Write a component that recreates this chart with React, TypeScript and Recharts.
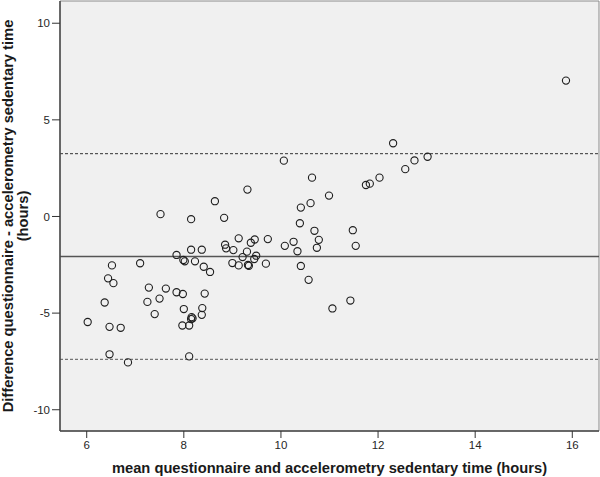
import React from 'react';
import {
  ScatterChart,
  Scatter,
  XAxis,
  YAxis,
  ReferenceLine,
  ReferenceArea,
} from 'recharts';

// ---------------------------------------------------------------------------
// Data
// ---------------------------------------------------------------------------

/** mean of questionnaire and accelerometry sedentary time (hours) */
const meanHours = [
  15.87, 12.31, 13.02, 12.75, 12.56, 10.06, 10.64, 12.03, 11.75, 11.83,
  10.99, 9.31, 8.64, 10.41, 10.61, 7.52, 8.15, 8.83, 10.39, 10.69,
  11.48, 10.78, 9.13, 9.38, 9.46, 9.73, 10.26, 10.08, 10.34, 10.74,
  11.54, 8.85, 8.87, 9.02, 9.3, 8.15, 8.37, 7.85, 7.99, 8.02,
  8.23, 9.21, 9.49, 9.45, 9.0, 9.13, 9.32, 9.34, 9.69, 10.41,
  8.41, 8.54, 6.52, 7.1, 6.44, 6.55, 7.28, 7.63, 7.85, 7.98,
  8.43, 7.5, 7.25, 6.37, 8.0, 8.38, 8.37, 7.4, 8.16, 8.15,
  8.18, 6.02, 6.47, 6.7, 7.97, 8.11, 6.47, 6.85, 8.11, 10.57,
  11.06, 11.43,
];

/** difference questionnaire - accelerometry sedentary time (hours) */
const diffHours = [
  7.03, 3.79, 3.09, 2.9, 2.45, 2.89, 2.01, 2.01, 1.63, 1.7,
  1.08, 1.39, 0.79, 0.46, 0.69, 0.12, -0.14, -0.07, -0.35, -0.74,
  -0.71, -1.21, -1.13, -1.36, -1.19, -1.17, -1.31, -1.52, -1.8, -1.62,
  -1.52, -1.46, -1.65, -1.74, -1.82, -1.72, -1.72, -1.99, -2.25, -2.32,
  -2.32, -2.1, -2.03, -2.2, -2.41, -2.53, -2.51, -2.55, -2.44, -2.56,
  -2.6, -2.87, -2.53, -2.42, -3.2, -3.45, -3.68, -3.73, -3.92, -4.01,
  -3.99, -4.25, -4.42, -4.45, -4.79, -4.74, -5.09, -5.05, -5.21, -5.31,
  -5.27, -5.46, -5.71, -5.76, -5.64, -5.64, -7.13, -7.55, -7.24, -3.28,
  -4.76, -4.35,
];

const xTicks = [6, 8, 10, 12, 14, 16];
const yTicks = [-10, -5, 0, 5, 10];
const xDomain = [5.45, 16.55];
const yDomain = [-11.1, 11.15];

// Bland-Altman lines
const meanDifference = -2.07;
const upperLimit = 3.25;
const lowerLimit = -7.39;

const FONT = '"Liberation Sans", Arial, sans-serif';

// ---------------------------------------------------------------------------
// Custom pieces
// ---------------------------------------------------------------------------

function OpenCircle(props: { cx?: number; cy?: number }) {
  const { cx = 0, cy = 0 } = props;
  return <circle cx={cx} cy={cy} r={3.6} fill="none" stroke="#1e1e1e" strokeWidth={1.1} />;
}

type VB = { x: number; y: number; width: number; height: number };

function YTitle(props: { viewBox?: VB }) {
  const vb = props.viewBox || { x: 0, y: 0, width: 0, height: 0 };
  const cy = vb.y + vb.height / 2;
  const style = { fontFamily: FONT, fontSize: 14.7, fontWeight: 'bold' as const, fill: '#1a1a1a' };
  return (
    <g transform={`translate(8, ${cy}) rotate(-90)`}>
      <text x={0} y={0} textAnchor="middle" dominantBaseline="central" {...style}>
        Difference questionnaire - accelerometry sedentary time
      </text>
      <text x={0} y={15} textAnchor="middle" dominantBaseline="central" {...style}>
        (hours)
      </text>
    </g>
  );
}

function XTitle(props: { viewBox?: VB }) {
  const vb = props.viewBox || { x: 0, y: 0, width: 0, height: 0 };
  return (
    <text
      x={vb.x + vb.width / 2}
      y={468}
      textAnchor="middle"
      dominantBaseline="central"
      fontFamily={FONT}
      fontSize={14.7}
      fontWeight="bold"
      fill="#1a1a1a"
    >
      mean questionnaire and accelerometry sedentary time (hours)
    </text>
  );
}

// ---------------------------------------------------------------------------
// Component
// ---------------------------------------------------------------------------

export default function App() {
  const points = meanHours.map((m, i) => ({ mean: m, diff: diffHours[i] }));
  const tick = { fill: '#262626', fontSize: 11.5, fontFamily: FONT };

  return (
    <div style={{ position: 'absolute', left: 0, top: 0, width: 600, height: 477, background: '#fff' }}>
      <ScatterChart width={600} height={477} margin={{ top: 1, right: 1, bottom: 0, left: 0 }}>
        {/* plot background + frame */}
        <ReferenceArea
          x1={xDomain[0]}
          x2={xDomain[1]}
          y1={yDomain[0]}
          y2={yDomain[1]}
          fill="#f0f0f0"
          fillOpacity={1}
          stroke="#8a8a8a"
          strokeWidth={1}
          ifOverflow="visible"
        />
        <XAxis
          type="number"
          dataKey="mean"
          domain={xDomain}
          ticks={xTicks}
          allowDataOverflow
          height={46}
          tickSize={7}
          tickMargin={3}
          tick={tick}
          tickLine={{ stroke: '#333' }}
          axisLine={{ stroke: '#4a4a4a', strokeWidth: 1.5 }}
          label={{ content: <XTitle /> }}
        />
        <YAxis
          type="number"
          dataKey="diff"
          domain={yDomain}
          ticks={yTicks}
          allowDataOverflow
          width={60}
          tickSize={8}
          tickMargin={2}
          tick={tick}
          tickLine={{ stroke: '#333' }}
          axisLine={{ stroke: '#4a4a4a', strokeWidth: 1.5 }}
          label={{ content: <YTitle /> }}
        />
        <ReferenceLine y={upperLimit} stroke="#333" strokeDasharray="3 2" strokeWidth={1} />
        <ReferenceLine y={meanDifference} stroke="#555" strokeWidth={1.5} />
        <ReferenceLine y={lowerLimit} stroke="#555" strokeDasharray="3 2" strokeWidth={1} />
        <Scatter data={points} shape={<OpenCircle />} isAnimationActive={false} />
      </ScatterChart>
    </div>
  );
}
